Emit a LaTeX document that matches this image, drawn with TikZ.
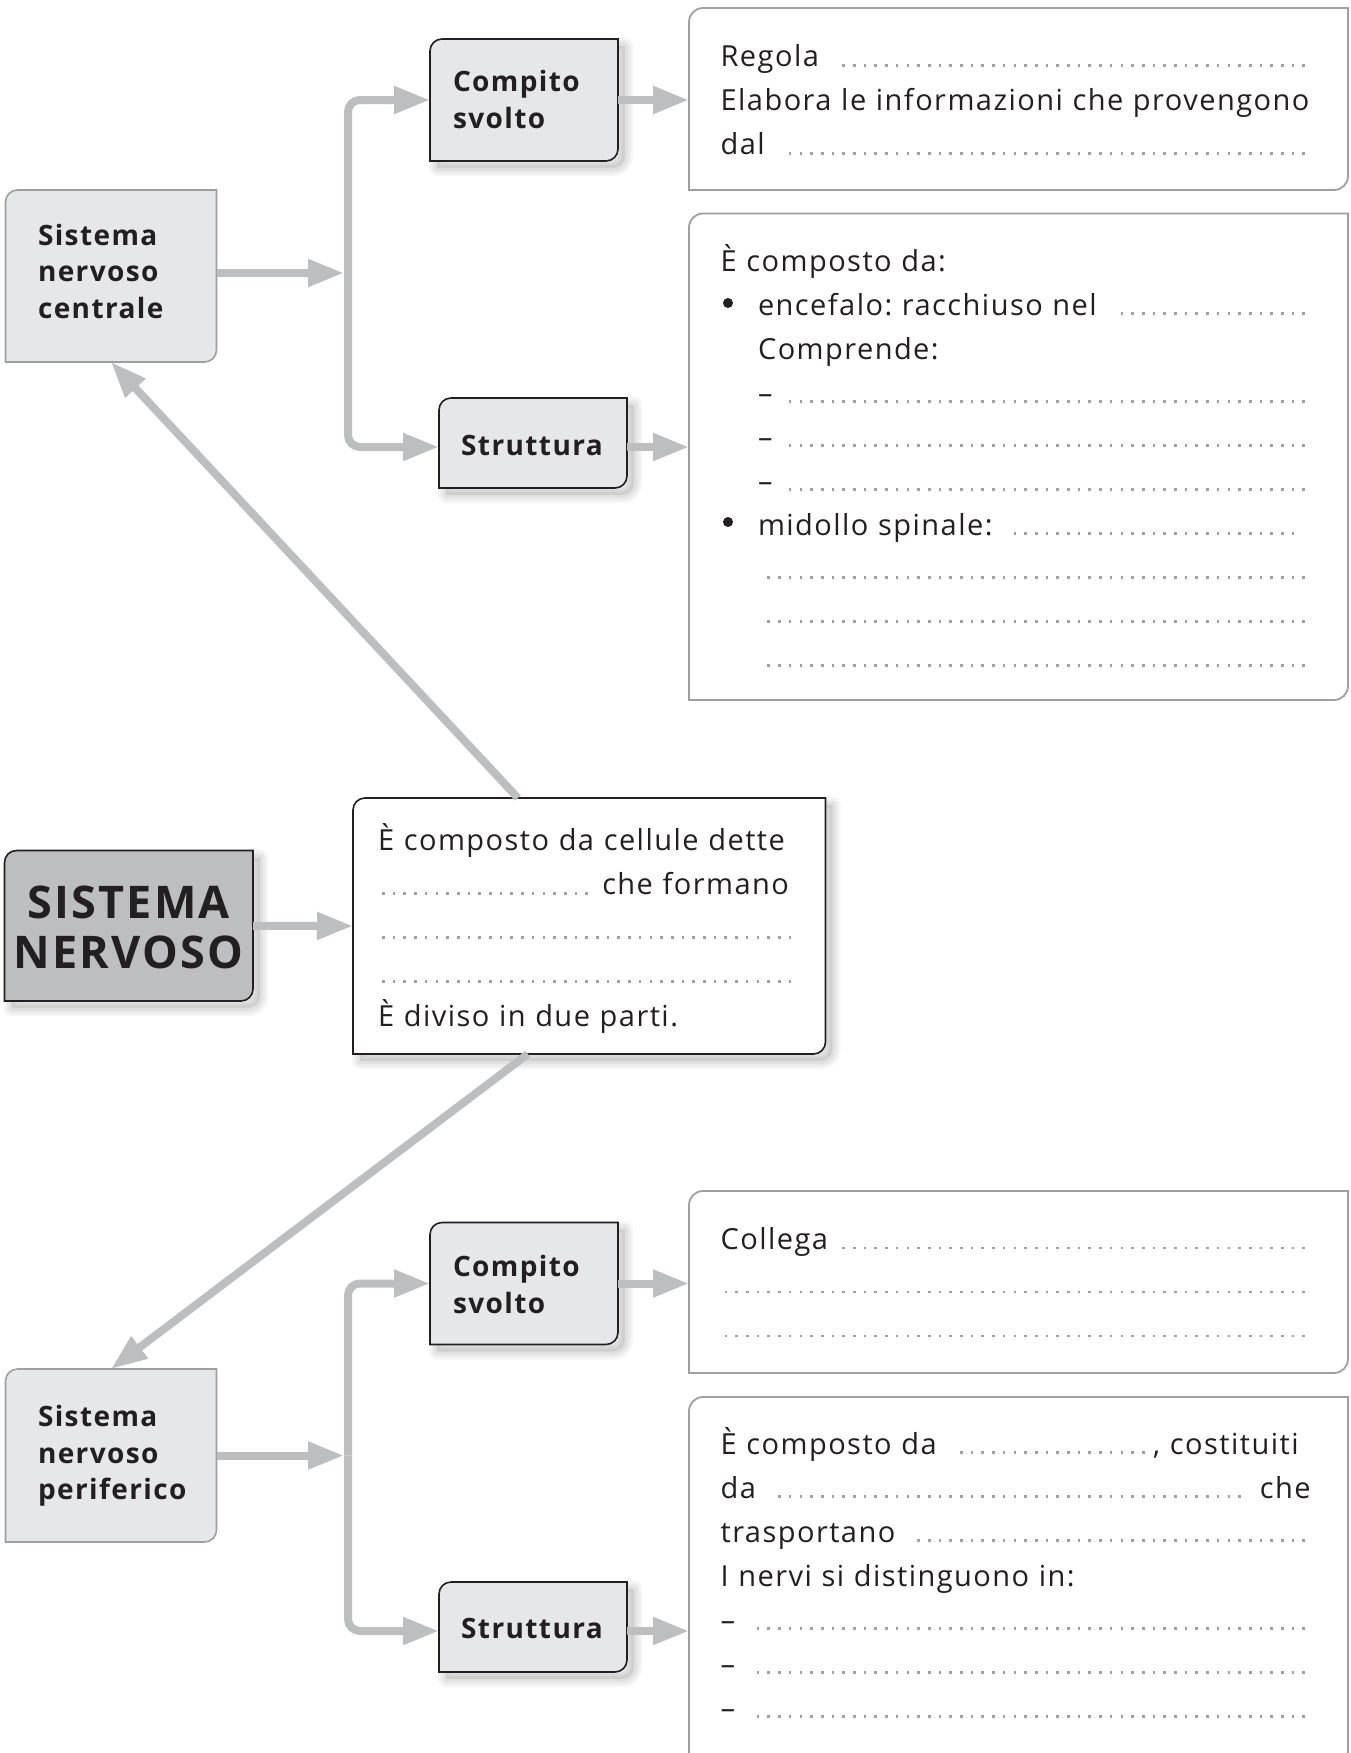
\documentclass[tikz,border=0pt]{standalone}
\usepackage{fontspec}
\setmainfont{Open Sans}[LetterSpace=5]
\usetikzlibrary{arrows.meta,calc}

\definecolor{linkgray}{HTML}{BCBEC0}
\definecolor{panelfill}{HTML}{E6E7E8}
\definecolor{rootfill}{HTML}{BCBEC0}
\definecolor{framegray}{HTML}{9D9FA2}
\definecolor{dotgray}{HTML}{A0A0A0}
\definecolor{inkblack}{HTML}{231F20}

\pgfdeclarelayer{shade}
\pgfdeclarelayer{panels}
\pgfsetlayers{shade,panels,main}

\frenchspacing

% dotted answer line, filling the rest of the text line
\newcommand\leadfill{\leavevmode\leaders\hbox to 10.7pt{\hss\textcolor{dotgray}{\rule{2.6pt}{2.6pt}}\hss}\hskip 0pt plus 1filll\kern0pt\relax}
% fixed gap kept at the end of a line
\newcommand\tailgap[1]{\hspace*{#1}\mbox{}}

% outline with rounded top-left and bottom-right corners around a node
\newcommand\cornerbox[5]{% node, radius, dx, dy, options
  \path[#5] ([xshift=#3,yshift=#4-#2]#1.north west)
    arc[start angle=180,end angle=90,radius=#2]
    -- ([xshift=#3,yshift=#4]#1.north east)
    -- ([xshift=#3,yshift=#4+#2]#1.south east)
    arc[start angle=0,end angle=-90,radius=#2]
    -- ([xshift=#3,yshift=#4]#1.south west) -- cycle;}

% soft drop shadow below and right of a node
\newcommand\softshade[1]{%
  \foreach \w in {16,11,6}{\cornerbox{#1}{12pt}{7pt}{-7pt}{draw=black,draw opacity=0.04,line width=\w pt,line join=round}}%
  \cornerbox{#1}{12pt}{7pt}{-7pt}{fill=black,fill opacity=0.08}}

\begin{document}
\begin{tikzpicture}[x=1pt,y=1pt,
  frame/.style={rectangle,inner sep=0pt,outer sep=0pt,draw=none},
  link/.style={draw=linkgray,line width=8pt,-{Triangle[length=36pt,width=26pt]}},
  fork/.style={draw=linkgray,line width=8pt,rounded corners=12pt,-{Triangle[length=36pt,width=26pt]}},
  body/.style={anchor=base west,inner sep=0pt,outer sep=0pt,text width=#1,align=left,
    font=\fontsize{29pt}{44pt}\selectfont,text=inkblack},
  title/.style={anchor=base west,inner sep=0pt,outer sep=0pt,text width=200pt,align=left,
    font=\fontsize{28pt}{36.5pt}\selectfont\bfseries,text=inkblack},
  bigtitle/.style={anchor=base,inner sep=0pt,outer sep=0pt,text width=248pt,align=center,
    font=\fontsize{45pt}{50pt}\selectfont\bfseries,text=inkblack},
  bullet/.style={fill=inkblack}
]
\useasboundingbox (0,0) rectangle (1350,-1753);

% ---------- frames ----------
\node[frame,minimum width=211pt,minimum height=172pt] (snc) at (111,-276) {};
\node[frame,minimum width=188pt,minimum height=122pt] (cs1) at (524,-100) {};
\node[frame,minimum width=188pt,minimum height=90pt]  (st1) at (533,-443) {};
\node[frame,minimum width=659pt,minimum height=182pt] (a1)  at (1018.5,-99) {};
\node[frame,minimum width=659pt,minimum height=486.5pt] (a2) at (1018.5,-456.75) {};
\node[frame,minimum width=248.5pt,minimum height=150.5pt] (sn) at (128.75,-925.75) {};
\node[frame,minimum width=472.5pt,minimum height=256pt] (cen) at (589.25,-926) {};
\node[frame,minimum width=211pt,minimum height=173pt] (snp) at (111,-1455.5) {};
\node[frame,minimum width=188pt,minimum height=122pt] (cs2) at (524,-1283.5) {};
\node[frame,minimum width=188pt,minimum height=90pt]  (st2) at (533,-1627) {};
\node[frame,minimum width=659pt,minimum height=182pt] (a3)  at (1018.5,-1282) {};
\node[frame,minimum width=659pt,minimum height=370pt] (a4)  at (1018.5,-1582) {};

\begin{pgfonlayer}{shade}
  \fill[white] (0,0) rectangle (1350,-1753);
  \softshade{cs1}\softshade{st1}\softshade{sn}\softshade{cen}\softshade{cs2}\softshade{st2}
\end{pgfonlayer}

\begin{pgfonlayer}{panels}
  \cornerbox{snc}{12pt}{0pt}{0pt}{fill=panelfill,draw=framegray,line width=1.6pt}
  \cornerbox{snp}{12pt}{0pt}{0pt}{fill=panelfill,draw=framegray,line width=1.6pt}
  \cornerbox{cs1}{12pt}{0pt}{0pt}{fill=panelfill,draw=inkblack,line width=1.6pt}
  \cornerbox{st1}{12pt}{0pt}{0pt}{fill=panelfill,draw=inkblack,line width=1.6pt}
  \cornerbox{cs2}{12pt}{0pt}{0pt}{fill=panelfill,draw=inkblack,line width=1.6pt}
  \cornerbox{st2}{12pt}{0pt}{0pt}{fill=panelfill,draw=inkblack,line width=1.6pt}
  \cornerbox{sn}{12pt}{0pt}{0pt}{fill=rootfill,draw=inkblack,line width=1.6pt}
  \cornerbox{cen}{12pt}{0pt}{0pt}{fill=white,draw=inkblack,line width=1.6pt}
  \cornerbox{a1}{14pt}{0pt}{0pt}{fill=white,draw=framegray,line width=1.8pt}
  \cornerbox{a2}{14pt}{0pt}{0pt}{fill=white,draw=framegray,line width=1.8pt}
  \cornerbox{a3}{14pt}{0pt}{0pt}{fill=white,draw=framegray,line width=1.8pt}
  \cornerbox{a4}{14pt}{0pt}{0pt}{fill=white,draw=framegray,line width=1.8pt}
\end{pgfonlayer}

% ---------- connectors ----------
\coordinate (fork1) at (348,-273);
\coordinate (fork2) at (348,-1455.5);
\coordinate (st1in) at ($(st1.west)+(0,-4)$);
\coordinate (st2in) at ($(st2.west)+(0,-4)$);

\draw[link] (sn.east) -- (cen.west);
\draw[link] ($(cen.north west)!0.349!(cen.north east)$) -- (snc.south);
\draw[link] ($(cen.south west)!0.37!(cen.south east)$) -- (snp.north);

\draw[link] ($(snc.east)+(0,3)$) -- ($(fork1)+(-4,0)$);
\draw[fork] (fork1) -- (fork1 |- cs1.west) -- (cs1.west);
\draw[fork] (fork1) -- (fork1 |- st1in) -- (st1in);
\draw[link] (cs1.east) -- (cs1.east -| a1.west);
\draw[link] ($(st1.east)+(0,-4)$) -- ($(st1.east -| a2.west)+(0,-4)$);

\draw[link] (snp.east) -- ($(fork2)+(-4,0)$);
\draw[fork] (fork2) -- (fork2 |- cs2.west) -- (cs2.west);
\draw[fork] (fork2) -- (fork2 |- st2in) -- (st2in);
\draw[link] (cs2.east) -- (cs2.east -| a3.west);
\draw[link] ($(st2.east)+(0,-4)$) -- ($(st2.east -| a4.west)+(0,-4)$);

% ---------- labels ----------
\node[title] (snct) at (38,-245) {Sistema\\nervoso\\centrale};
\node[title] (cs1t) at (453,-91.7) {Compito\\svolto};
\node[title,text width=,anchor=base] (st1t) at (532,-455) {Struttura};
\node[bigtitle] (snt) at (128.5,-918) {SISTEMA\\NERVOSO};
\node[title] (snpt) at (38,-1426.5) {Sistema\\nervoso\\periferico};
\node[title] (cs2t) at (453,-1276.8) {Compito\\svolto};
\node[title,text width=,anchor=base] (st2t) at (532,-1638.5) {Struttura};

% ---------- texts ----------
\node[body=590pt] (a1t) at (720.6,-66.6) {Regola \leadfill\\
Elabora le informazioni che provengono\\
dal \leadfill};

\node[body=590pt] (a2t) at (720.6,-271) {È composto da:\\
\hspace*{37.4pt}encefalo: racchiuso nel \leadfill\\
\hspace*{37.4pt}Comprende:\\
\hspace*{37.4pt}–\hspace{12pt}\leadfill\\
\hspace*{37.4pt}–\hspace{12pt}\leadfill\\
\hspace*{37.4pt}–\hspace{12pt}\leadfill\\
\hspace*{37.4pt}midollo spinale: \leadfill\tailgap{3pt}\\
\hspace*{37.4pt}\leadfill\\
\hspace*{37.4pt}\leadfill\\
\hspace*{37.4pt}\leadfill};
\fill[bullet] (728,-303) circle (5);
\fill[bullet] (728,-522) circle (5);

\node[body=419pt] (cent) at (378,-850.7) {È composto da cellule dette\\
\mbox{}\leadfill\ che formano\tailgap{8pt}\\
\mbox{}\leadfill\\
\mbox{}\leadfill\\
È diviso in due parti.};

\node[body=590pt] (a3t) at (720.6,-1249.4) {Collega \leadfill\\
\mbox{}\leadfill\\
\mbox{}\leadfill};

\node[body=590pt] (a4t) at (720.6,-1454) {È composto da \leadfill, costituiti\tailgap{12pt}\\
da \leadfill\ che\\
trasportano \leadfill\\
I nervi si distinguono in:\\
–\hspace{15pt}\leadfill\\
–\hspace{15pt}\leadfill\\
–\hspace{15pt}\leadfill};
\end{tikzpicture}
\end{document}
